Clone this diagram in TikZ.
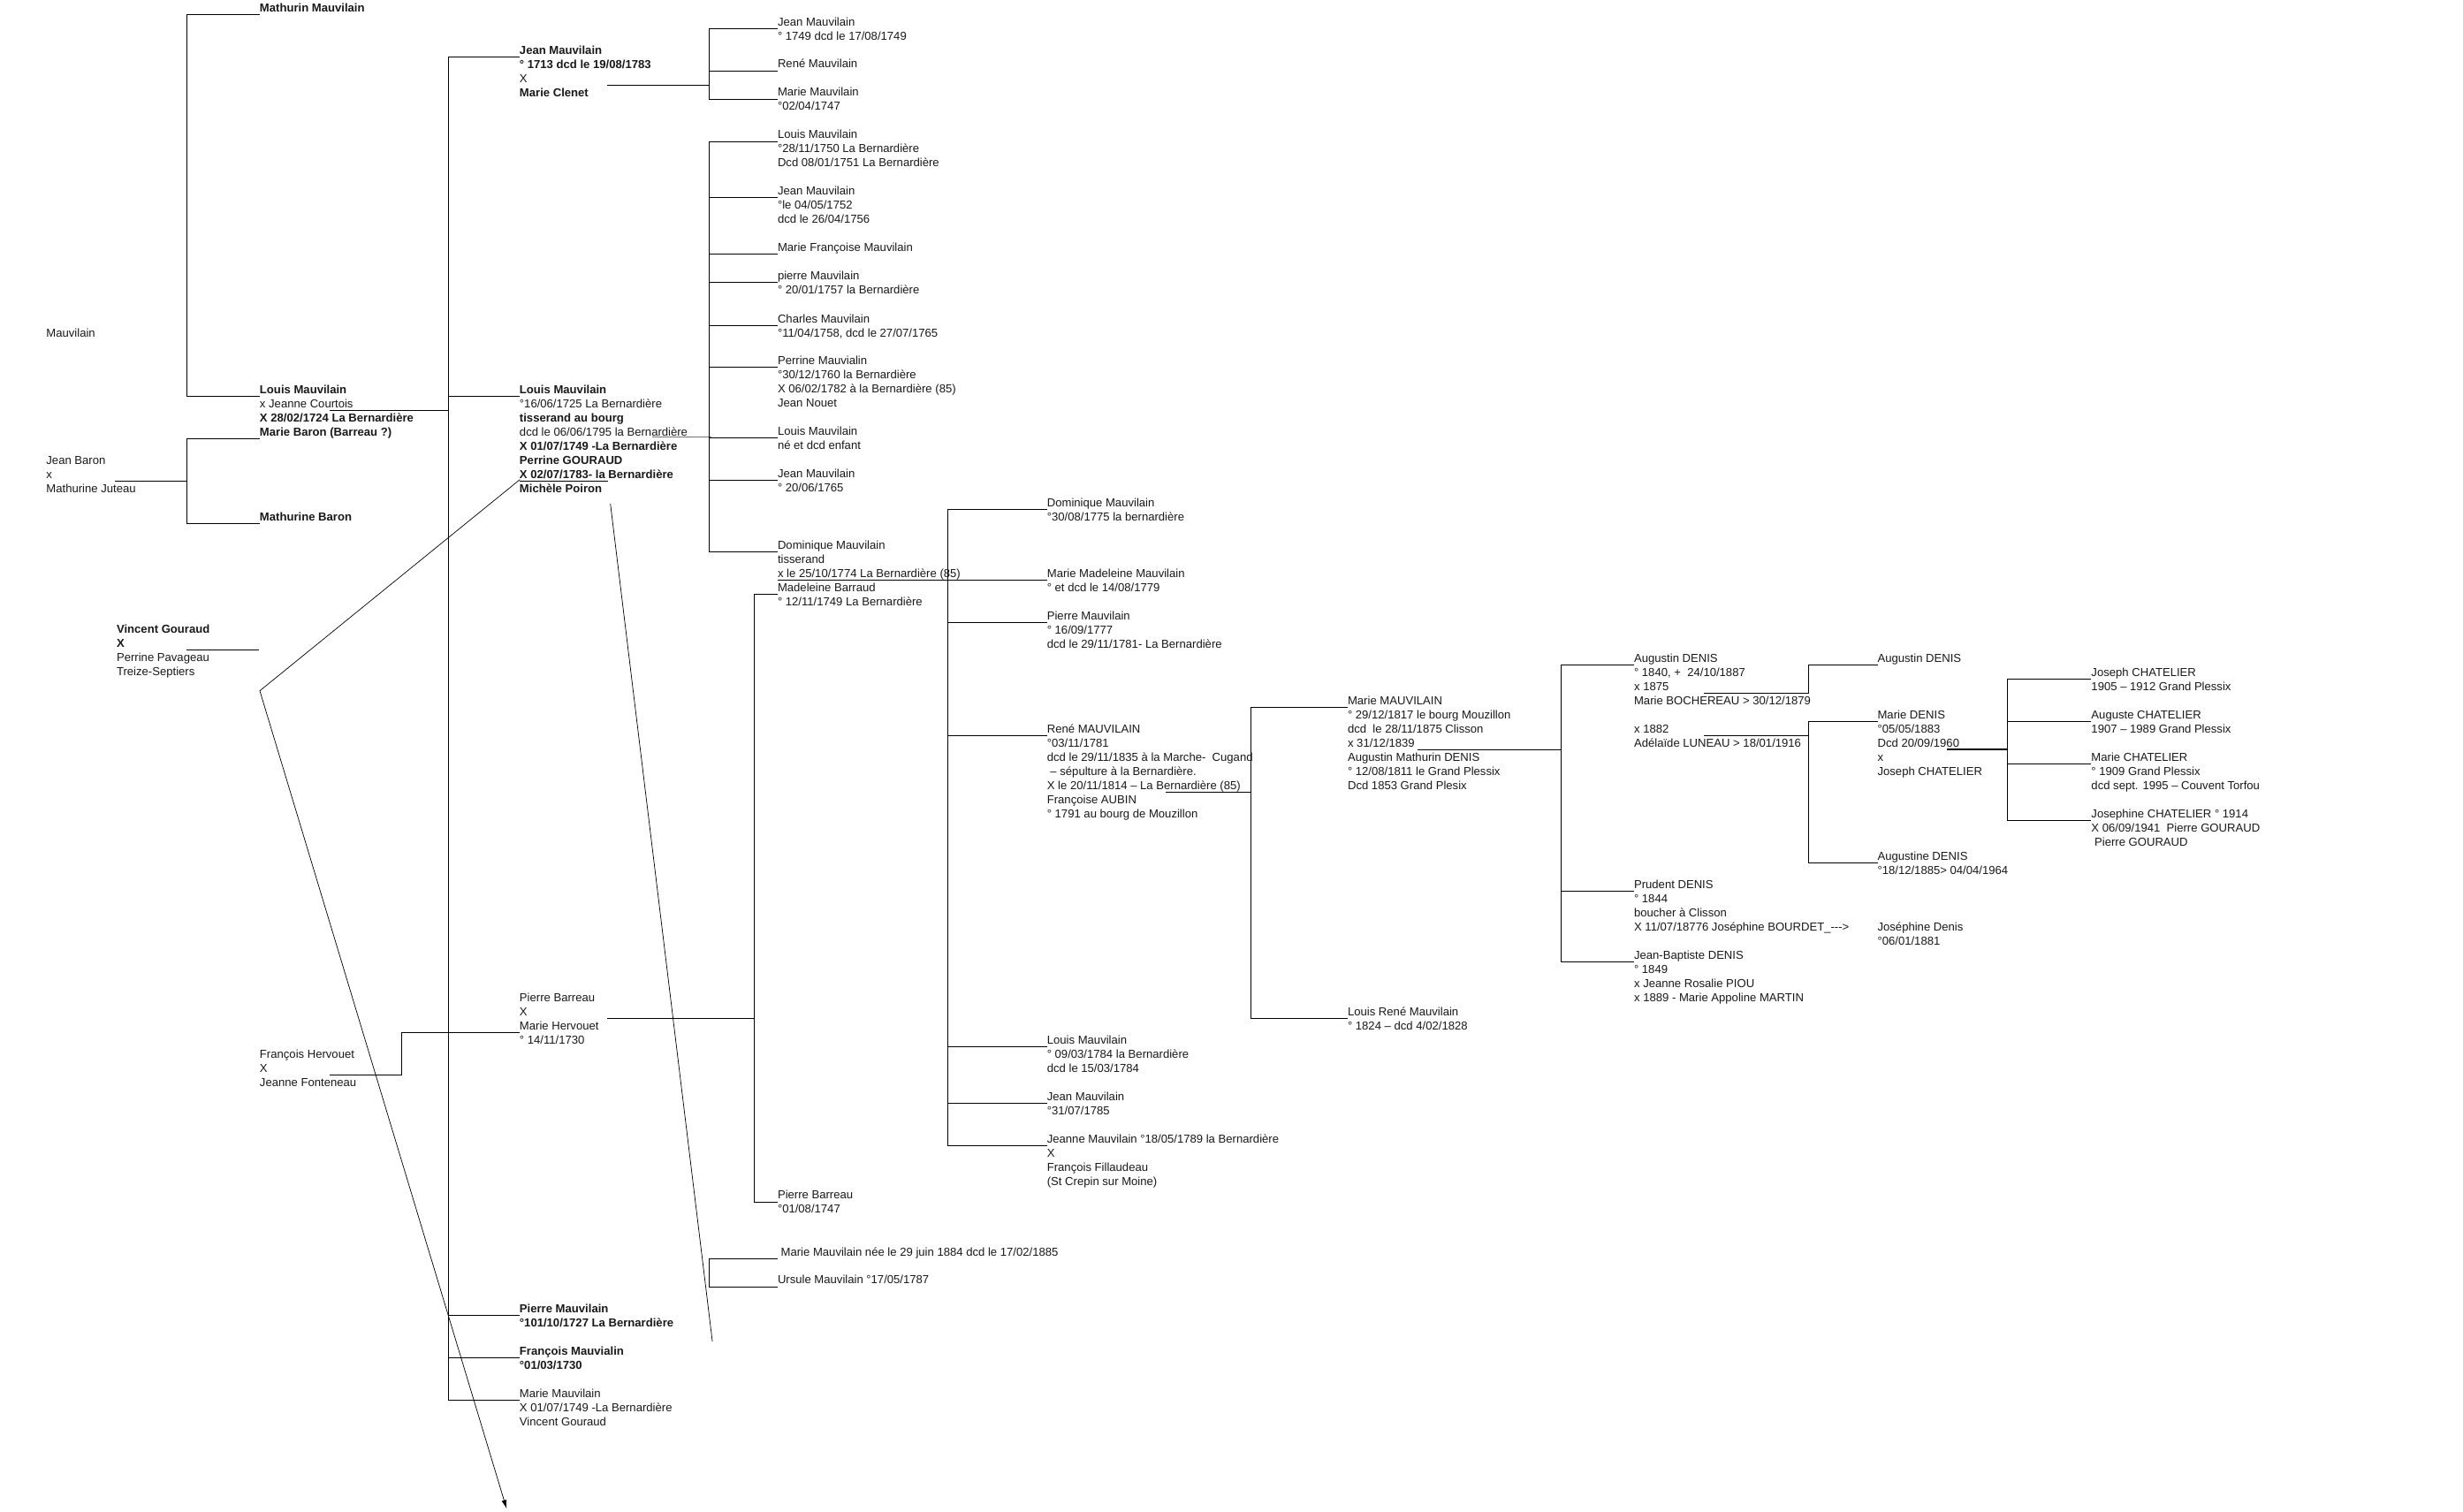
\documentclass[tikz,border=0pt]{standalone}
\usepackage{fontspec}
\setmainfont{Liberation Sans}
\usetikzlibrary{arrows.meta}
\newcommand\gen[1]{\vtop{\halign{##\hfil\cr#1\crcr}}}
\tikzset{
  txt/.style={anchor=base west, inner sep=0pt, outer sep=0pt, text=black!90, font=\fontsize{7.37}{9}\selectfont},
  conn/.style={line width=0.6pt, black},
  thinl/.style={line width=0.4pt, black},
}
\begin{document}
\begin{tikzpicture}[x=1pt,y=-1pt]
\useasboundingbox (0,0) rectangle (1568,962.6);
\fill[white] (0,0) rectangle (1568,962.6);

% ---------- column A
\node[txt] (mathurin) at (165.4,7.4) {\gen{\textbf{Mathurin Mauvilain}}};
\node[txt] (mauvL) at (29.5,214.6) {\gen{Mauvilain}};
\node[txt] (louisA) at (165.4,250.4) {\gen{\textbf{Louis Mauvilain}\cr x Jeanne Courtois\cr \textbf{X 28/02/1724 La Bernardière}\cr \textbf{Marie Baron (Barreau ?)}}};
\node[txt] (jbaron) at (29.5,295.4) {\gen{Jean Baron\cr x\cr Mathurine Juteau}};
\node[txt] (mbaron) at (165.4,331.5) {\gen{\textbf{Mathurine Baron}}};
\node[txt] (vincent) at (74.3,403.2) {\gen{\textbf{Vincent Gouraud}\cr \textbf{X}\cr Perrine Pavageau\cr Treize-Septiers}};
\node[txt] (hervouet) at (165.4,673.6) {\gen{François Hervouet\cr X\cr Jeanne Fonteneau}};

% ---------- column B
\node[txt] (jeanB) at (330.8,34.4) {\gen{\textbf{Jean Mauvilain}\cr \textbf{° 1713 dcd le 19/08/1783}\cr X\cr \textbf{Marie Clenet}}};
\node[txt] (louisB) at (330.8,250.4) {\gen{\textbf{Louis Mauvilain}\cr °16/06/1725 La Bernardière\cr \textbf{tisserand au bourg}\cr dcd le 06/06/1795 la Bernardière\cr \textbf{X 01/07/1749 -La Bernardière}\cr \textbf{Perrine GOURAUD}\cr \textbf{X 02/07/1783- la Bernardière}\cr \textbf{Michèle Poiron}}};
\node[txt] (pbarreauB) at (330.8,637.6) {\gen{Pierre Barreau\cr X\cr Marie Hervouet\cr ° 14/11/1730}};
\node[txt] (pierreM) at (330.8,835.6) {\gen{\textbf{Pierre Mauvilain}\cr \textbf{°101/10/1727 La Bernardière}}};
\node[txt] (francoisM) at (330.8,862.6) {\gen{\textbf{François Mauvialin}\cr \textbf{°01/03/1730}}};
\node[txt] (marieM) at (330.8,889.6) {\gen{Marie Mauvilain\cr X 01/07/1749 -La Bernardière\cr Vincent Gouraud}};

% ---------- column C
\node[txt] (c1) at (495.1,16.4) {\gen{Jean Mauvilain\cr ° 1749 dcd le 17/08/1749}};
\node[txt] (c2) at (495.1,43.3) {\gen{René Mauvilain}};
\node[txt] (c3) at (495.1,61.3) {\gen{Marie Mauvilain\cr °02/04/1747}};
\node[txt] (c4) at (495.1,88.3) {\gen{Louis Mauvilain\cr °28/11/1750 La Bernardière\cr Dcd 08/01/1751 La Bernardière}};
\node[txt] (c5) at (495.1,124.2) {\gen{Jean Mauvilain\cr °le 04/05/1752\cr dcd le 26/04/1756}};
\node[txt] (c6) at (495.1,160.2) {\gen{Marie Françoise Mauvilain}};
\node[txt] (c7) at (495.1,178.2) {\gen{pierre Mauvilain\cr ° 20/01/1757 la Bernardière}};
\node[txt] (c8) at (495.1,205.4) {\gen{Charles Mauvilain\cr °11/04/1758, dcd le 27/07/1765}};
\node[txt] (c9) at (495.1,232.2) {\gen{Perrine Mauvialin\cr °30/12/1760 la Bernardière\cr X 06/02/1782 à la Bernardière (85)\cr Jean Nouet}};
\node[txt] (c10) at (495.1,277.2) {\gen{Louis Mauvilain\cr né et dcd enfant}};
\node[txt] (c11) at (495.1,304.2) {\gen{Jean Mauvilain\cr ° 20/06/1765}};
\node[txt] (c12) at (495.1,349.5) {\gen{Dominique Mauvilain\cr tisserand\cr x le 25/10/1774 La Bernardière (85)\cr Madeleine Barraud\cr ° 12/11/1749 La Bernardière}};
\node[txt] (c13) at (495.1,763.4) {\gen{Pierre Barreau\cr °01/08/1747}};
\node[txt] (c14) at (495.1,799.6) {\gen{\ Marie Mauvilain née le 29 juin 1884 dcd le 17/02/1885}};
\node[txt] (c15) at (495.1,817.4) {\gen{Ursule Mauvilain °17/05/1787}};

% ---------- column D
\node[txt] (d1) at (666.6,322.4) {\gen{Dominique Mauvilain\cr °30/08/1775 la bernardière}};
\node[txt] (d2) at (666.6,367.5) {\gen{Marie Madeleine Mauvilain\cr ° et dcd le 14/08/1779}};
\node[txt] (d3) at (666.6,394.5) {\gen{Pierre Mauvilain\cr ° 16/09/1777\cr dcd le 29/11/1781- La Bernardière}};
\node[txt] (d4) at (666.6,466.5) {\gen{René MAUVILAIN\cr °03/11/1781\cr dcd le 29/11/1835 à la Marche-~ Cugand\cr \ – sépulture à la Bernardière.\cr X le 20/11/1814 – La Bernardière (85)\cr Françoise AUBIN\cr ° 1791 au bourg de Mouzillon}};
\node[txt] (d5) at (666.6,664.5) {\gen{Louis Mauvilain\cr ° 09/03/1784 la Bernardière\cr dcd le 15/03/1784}};
\node[txt] (d6) at (666.6,700.5) {\gen{Jean Mauvilain\cr °31/07/1785}};
\node[txt] (d7) at (666.6,727.5) {\gen{Jeanne Mauvilain °18/05/1789 la Bernardière\cr X\cr François Fillaudeau\cr (St Crepin sur Moine)}};

% ---------- column E
\node[txt] (e1) at (858,448.5) {\gen{Marie MAUVILAIN\cr ° 29/12/1817 le bourg Mouzillon\cr dcd~ le 28/11/1875 Clisson\cr x 31/12/1839\cr Augustin Mathurin DENIS\cr ° 12/08/1811 le Grand Plessix\cr Dcd 1853 Grand Plesix}};
\node[txt] (e2) at (858,646.5) {\gen{Louis René Mauvilain\cr ° 1824 – dcd 4/02/1828}};

% ---------- column F
\node[txt] (f1) at (1040.3,421.5) {\gen{Augustin DENIS\cr ° 1840, +~ 24/10/1887\cr x 1875\cr Marie BOCHEREAU > 30/12/1879\cr\cr x 1882\cr Adélaïde LUNEAU > 18/01/1916}};
\node[txt] (f2) at (1040.3,565.5) {\gen{Prudent DENIS\cr ° 1844\cr boucher à Clisson\cr X 11/07/18776 Joséphine BOURDET\_-{}-{}->}};
\node[txt] (f3) at (1040.3,610.5) {\gen{Jean-Baptiste DENIS\cr ° 1849\cr x Jeanne Rosalie PIOU\cr x 1889 - Marie Appoline MARTIN}};

% ---------- column G
\node[txt] (g1) at (1195.3,421.4) {\gen{Augustin DENIS}};
\node[txt] (g2) at (1195.3,457.7) {\gen{Marie DENIS\cr °05/05/1883\cr Dcd 20/09/1960\cr x\cr Joseph CHATELIER}};
\node[txt] (g3) at (1195.3,547.5) {\gen{Augustine DENIS\cr °18/12/1885> 04/04/1964}};
\node[txt] (g4) at (1195.3,592.5) {\gen{Joséphine Denis\cr °06/01/1881}};

% ---------- column H
\node[txt] (h1) at (1331.4,430.5) {\gen{Joseph CHATELIER\cr 1905 – 1912 Grand Plessix}};
\node[txt] (h2) at (1331.4,457.5) {\gen{Auguste CHATELIER\cr 1907 – 1989 Grand Plessix}};
\node[txt] (h3) at (1331.4,484.5) {\gen{Marie CHATELIER\cr ° 1909 Grand Plessix\cr dcd sept. 1995 – Couvent Torfou}};
\node[txt] (h4) at (1331.4,520.5) {\gen{Josephine CHATELIER ° 1914\cr X 06/09/1941~ Pierre GOURAUD\cr \ Pierre GOURAUD}};

% ---------- junction coordinates
\coordinate (jbx) at (73.2,306.2);
\coordinate (lajc) at (210.1,261.4);
\coordinate (vgx) at (118.9,414);
\coordinate (jbm) at (386.6,54.3);
\coordinate (lbm) at (415,278);
\coordinate (lbx) at (331,306.2);
\coordinate (lbp) at (388.6,320.8);
\coordinate (lbpend) at (453.5,854);
\coordinate (perr) at (331,305.3);
\coordinate (bend) at (165.4,439.8);
\coordinate (arrowend) at (322.5,960.5);
\coordinate (pbm) at (386.6,648.4);
\coordinate (hvm) at (210,684.4);
\coordinate (rm) at (742.2,504.5);
\coordinate (mmm) at (902.5,477.3);
\coordinate (am1) at (1084.8,441.3);
\coordinate (am2) at (1084.8,468.3);
\coordinate (mdm) at (1239.5,477.1);

% ---------- connectors
% column A brackets
\draw[conn] ([yshift=-1.8pt]mathurin.base west) -- ++(-46.3,0) |- ([yshift=-1.8pt]louisA.base west);
\draw[conn] ([yshift=-28.8pt]louisA.base west) -- ++(-46.3,0) |- ([yshift=-1.8pt]mbaron.base west);
\draw[conn] (jbx) -- (119.1,306.2);
\draw[conn] (vgx) -- ++(45.8,0);
\draw[conn] (lajc) -- (285.3,261.4);
% column B bracket
\draw[thinl] ([yshift=-1.8pt]jeanB.base west) -- ++(-45.5,0) |- ([yshift=-1.8pt]marieM.base west);
\draw[conn] ([yshift=-1.8pt]jeanB.base west) -- ++(-45.5,0);
\draw[conn] ([yshift=-1.8pt]louisB.base west) -- ++(-45.5,0);
\draw[conn] ([yshift=-1.8pt]pierreM.base west) -- ++(-45.5,0);
\draw[conn] ([yshift=-1.8pt]francoisM.base west) -- ++(-45.5,0);
\draw[conn] ([yshift=-1.8pt]marieM.base west) -- ++(-45.5,0);
% Jean x Marie Clenet children
\draw[conn] (jbm) -- (451.5,54.3);
\draw[conn] ([yshift=-1.8pt]c1.base west) -- ++(-43.6,0) |- ([yshift=-1.8pt]c3.base west);
\draw[conn] ([yshift=-1.8pt]c2.base west) -- ++(-43.6,0);
% Louis x Perrine children
\draw[line width=0.6pt, black!55] (lbm) -- (453,278);
\draw[conn] ([yshift=-1.8pt]c4.base west) -- ++(-43.6,0) |- ([yshift=-1.8pt]c12.base west);
\foreach \n in {c5,c6,c7,c8,c9,c10,c11}
  \draw[conn] ([yshift=-1.8pt]\n.base west) -- ++(-43.6,0);
% Louis x Michele Poiron
\draw[conn] (lbx) -- (386.8,306.2);
\draw[thinl] (lbp) -- (lbpend);
\draw[conn] ([yshift=-1.8pt]c14.base west) -- ++(-43.6,0) |- ([yshift=-1.8pt]c15.base west);
% Vincent Gouraud -> Perrine, arrow
\draw[thinl, -{Latex[length=5.5pt,width=3.2pt]}] (perr) -- (bend) -- (arrowend);
% Dominique x Madeleine Barraud
\draw[conn] ([yshift=-19.8pt]c12.base west) -- ([yshift=-1.8pt]d2.base west);
\draw[conn] ([yshift=-28.8pt]c12.base west) -- ++(-14.8,0) |- ([yshift=-1.8pt]c13.base west);
\draw[conn] (pbm) -- (480.3,648.4);
\draw[conn] (hvm) -- (255.8,684.4) |- ([yshift=-19.8pt]pbarreauB.base west);
% column D bracket
\draw[conn] ([yshift=-1.8pt]d1.base west) -- ++(-63.3,0) |- ([yshift=-1.8pt]d7.base west);
\foreach \n in {d3,d4,d5,d6}
  \draw[conn] ([yshift=-1.8pt]\n.base west) -- ++(-63.3,0);
% Rene x Francoise AUBIN
\draw[conn] (rm) -- (796.3,504.5);
\draw[conn] ([yshift=-1.8pt]e1.base west) -- ++(-61.7,0) |- ([yshift=-1.8pt]e2.base west);
% Marie MAUVILAIN x Augustin Mathurin DENIS
\draw[conn] (mmm) -- (993.6,477.3);
\draw[conn] ([yshift=-1.8pt]f1.base west) -- ++(-46.7,0) |- ([yshift=-1.8pt]f3.base west);
\draw[conn] ([yshift=-1.8pt]f2.base west) -- ++(-46.7,0);
% Augustin DENIS marriages
\draw[conn] (am1) -- (1151.2,441.3) |- ([yshift=-1.8pt]g1.base west);
\draw[conn] (am2) -- (1151.2,468.3);
\draw[conn] ([yshift=-1.8pt]g2.base west) -- ++(-44.1,0) |- ([yshift=-1.8pt]g3.base west);
% Marie DENIS x Joseph CHATELIER
\draw[conn] (mdm) -- (1277.8,477.1);
\draw[conn] ([yshift=-1.8pt]h1.base west) -- ++(-53.6,0) |- ([yshift=-1.8pt]h4.base west);
\draw[conn] ([yshift=-1.8pt]h2.base west) -- ++(-53.6,0);
\draw[conn] ([yshift=-1.8pt]h3.base west) -- ++(-53.6,0);
\end{tikzpicture}
\end{document}
